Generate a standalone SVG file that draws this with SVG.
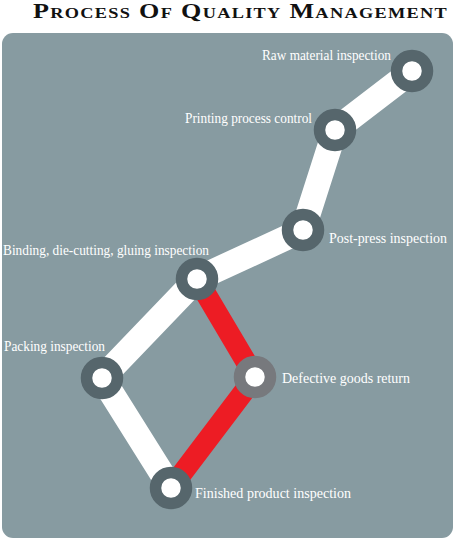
<svg xmlns="http://www.w3.org/2000/svg" width="456" height="540" viewBox="0 0 456 540">
<style>
.title{font-family:"Liberation Serif",serif;font-weight:bold;font-variant:small-caps;fill:#111;font-size:20px;letter-spacing:1px}
.lbl{font-family:"Liberation Serif",serif;font-size:14.5px;fill:#fff}
.ring{fill:#fff;stroke:#56666c;stroke-width:11.5}
.ring2{fill:#fff;stroke:#77797d;stroke-width:11.5}
.w{stroke:#fff;stroke-width:25;fill:none;stroke-linecap:butt;stroke-linejoin:round}
.r{stroke:#ed1c24;stroke-width:21;fill:none;stroke-linecap:butt;stroke-linejoin:round}
</style>
<text class="title" x="33" y="18" textLength="415" lengthAdjust="spacingAndGlyphs">Process Of Quality Management</text>
<rect x="2" y="33" width="451" height="505" rx="11" fill="#879ba1"/>
<g id="connectors">
<polyline class="w" points="412,71 335,130 303,230 197,279 102,378 171,488"/>
<polyline class="r" points="197,279 255,377 171,488"/>
</g>
<g id="raw"><circle class="ring" cx="412" cy="71" r="15.5"/><text class="lbl" x="391" y="60" text-anchor="end" textLength="129" lengthAdjust="spacingAndGlyphs">Raw material inspection</text></g>
<g id="printing"><circle class="ring" cx="335" cy="130" r="15.5"/><text class="lbl" x="312" y="123" text-anchor="end" textLength="127" lengthAdjust="spacingAndGlyphs">Printing process control</text></g>
<g id="postpress"><circle class="ring" cx="303" cy="230" r="15.5"/><text class="lbl" x="329" y="243" textLength="118" lengthAdjust="spacingAndGlyphs">Post-press inspection</text></g>
<g id="binding"><circle class="ring" cx="197" cy="279" r="15.5"/><text class="lbl" x="3" y="255" textLength="206" lengthAdjust="spacingAndGlyphs">Binding, die-cutting, gluing inspection</text></g>
<g id="packing"><circle class="ring" cx="102" cy="378" r="15.5"/><text class="lbl" x="4" y="351" textLength="101" lengthAdjust="spacingAndGlyphs">Packing inspection</text></g>
<g id="defective"><circle class="ring2" cx="255" cy="377" r="15.5"/><text class="lbl" x="282" y="383" textLength="128" lengthAdjust="spacingAndGlyphs">Defective goods return</text></g>
<g id="finished"><circle class="ring" cx="171" cy="488" r="15.5"/><text class="lbl" x="195" y="498" textLength="156" lengthAdjust="spacingAndGlyphs">Finished product inspection</text></g>
</svg>
